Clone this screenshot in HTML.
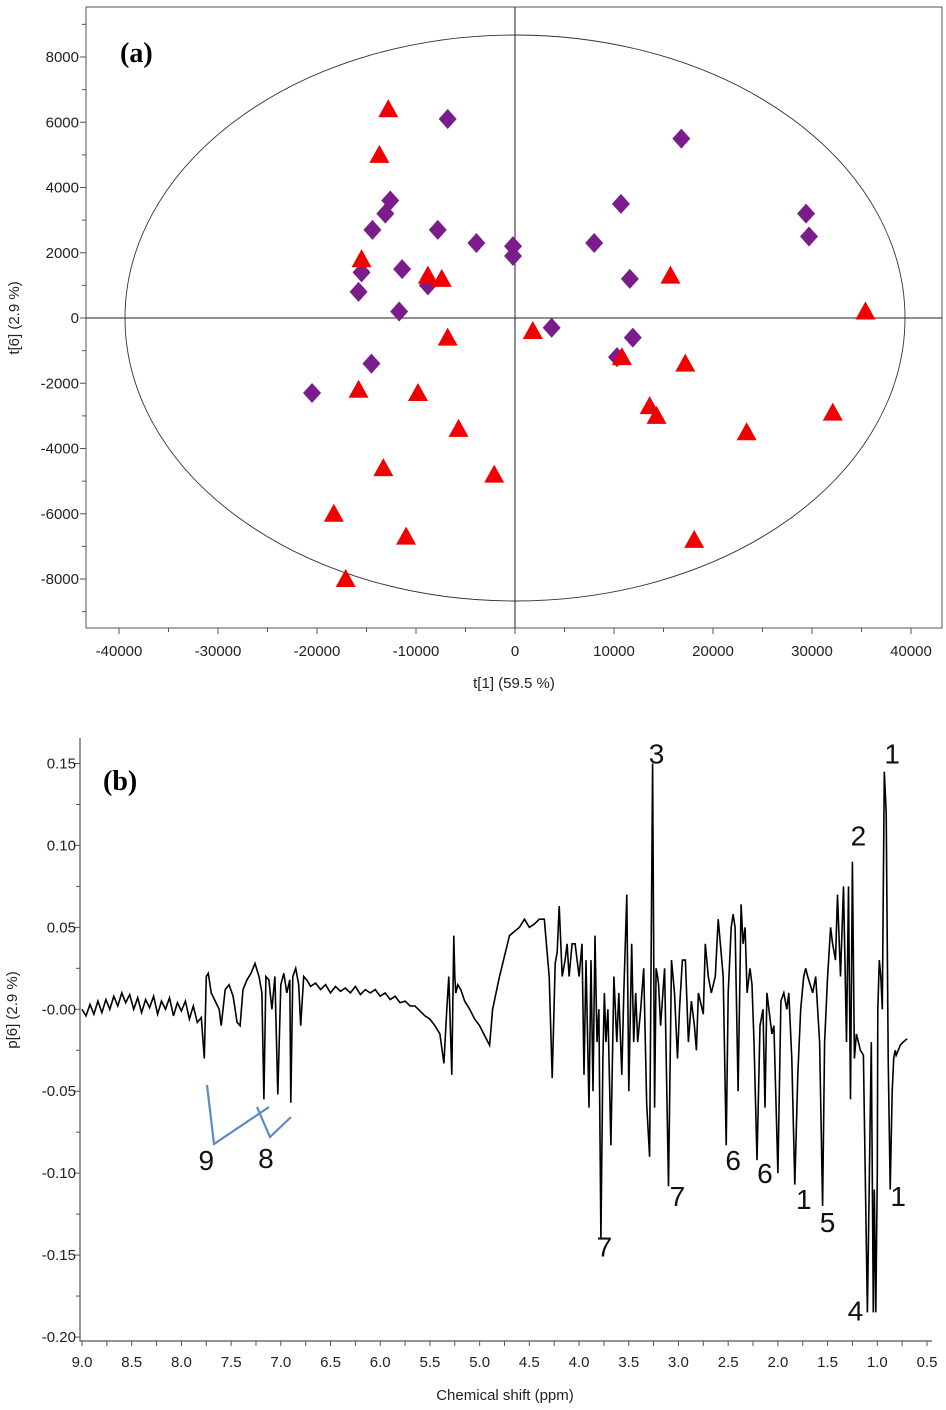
<!DOCTYPE html>
<html><head><meta charset="utf-8">
<style>
html,body{margin:0;padding:0;background:#fff;}
svg{display:block;}
text{font-family:"Liberation Sans",sans-serif;}
text.serif{font-family:"Liberation Serif",serif;}
</style></head>
<body>
<svg id="fig" width="946" height="1410" viewBox="0 0 946 1410" xmlns="http://www.w3.org/2000/svg">
<g id="chartA"></g>
<g id="chartB"></g>
</svg>
<script>
// ---- Chart (a) data ----
const triX = [-12800,-13700,-15500,-8800,-7400,-6800,1800,15700,35400,10800,17200,13600,14300,32100,23400,-15800,-9800,-5700,-13300,-2100,-18300,-11000,18100,-17100];
const triY = [6400,5000,1800,1300,1200,-600,-400,1300,200,-1200,-1400,-2700,-3000,-2900,-3500,-2200,-2300,-3400,-4600,-4800,-6000,-6700,-6800,-8000];
const diaX = [-6800,16800,-12600,-13100,-14400,-7800,-3900,-200,-200,8000,10700,29400,29700,11600,-11400,-15500,-15800,-8800,-11700,3700,11900,10300,-14500,-20500];
const diaY = [6100,5500,3600,3200,2700,2700,2300,2200,1900,2300,3500,3200,2500,1200,1500,1400,800,1000,200,-300,-600,-1200,-1400,-2300];
const aXTicks = [-40000,-30000,-20000,-10000,0,10000,20000,30000,40000];
const aYTicks = [8000,6000,4000,2000,0,-2000,-4000,-6000,-8000];

// ---- Chart (b) data ----
const ppm = [9.0,8.96,8.92,8.88,8.84,8.8,8.76,8.72,8.68,8.64,8.6,8.56,8.52,8.48,8.44,8.4,8.36,8.32,8.28,8.24,8.2,8.16,8.12,8.08,8.04,8.0,7.96,7.92,7.88,7.84,7.8,7.77,7.75,7.73,7.7,7.66,7.62,7.6,7.56,7.52,7.48,7.44,7.41,7.38,7.34,7.3,7.26,7.22,7.19,7.17,7.15,7.12,7.09,7.06,7.03,7.0,6.97,6.94,6.91,6.9,6.88,6.85,6.82,6.8,6.77,6.74,6.7,6.65,6.6,6.55,6.5,6.45,6.4,6.35,6.3,6.25,6.2,6.15,6.1,6.05,6.0,5.95,5.9,5.85,5.8,5.75,5.7,5.65,5.6,5.55,5.5,5.45,5.4,5.36,5.33,5.31,5.28,5.26,5.25,5.24,5.22,5.19,5.15,5.1,5.05,5.0,4.95,4.9,4.87,4.8,4.7,4.6,4.55,4.5,4.45,4.4,4.35,4.3,4.27,4.24,4.22,4.2,4.17,4.14,4.12,4.1,4.07,4.04,4.0,3.97,3.95,3.93,3.9,3.88,3.86,3.84,3.82,3.8,3.78,3.76,3.745,3.73,3.71,3.68,3.65,3.62,3.6,3.57,3.55,3.52,3.5,3.47,3.45,3.43,3.41,3.38,3.35,3.32,3.29,3.26,3.24,3.225,3.21,3.2,3.18,3.14,3.1,3.07,3.04,3.01,2.99,2.96,2.93,2.9,2.87,2.84,2.82,2.8,2.75,2.73,2.7,2.67,2.63,2.6,2.55,2.52,2.5,2.47,2.45,2.43,2.4,2.37,2.35,2.33,2.31,2.28,2.26,2.24,2.21,2.18,2.15,2.13,2.11,2.08,2.06,2.04,2.0,1.97,1.94,1.91,1.89,1.86,1.83,1.8,1.77,1.74,1.72,1.7,1.65,1.62,1.58,1.55,1.53,1.5,1.47,1.45,1.42,1.4,1.37,1.34,1.31,1.29,1.27,1.25,1.23,1.21,1.19,1.17,1.14,1.1,1.06,1.04,1.03,1.015,1.0,0.995,0.98,0.965,0.95,0.93,0.91,0.89,0.87,0.85,0.835,0.82,0.81,0.79,0.77,0.74,0.7,0.65,0.6,0.55,0.52];
const pval = [0.0,-0.004,0.003,-0.003,0.005,-0.002,0.006,0.0,0.008,0.002,0.01,0.004,0.009,0.0,0.007,-0.002,0.006,0.001,0.008,-0.003,0.005,0.0,0.007,-0.004,0.004,-0.001,0.005,-0.006,0.002,-0.008,-0.005,-0.03,0.02,0.022,0.01,0.005,0.0,-0.01,0.012,0.015,0.008,-0.008,-0.01,0.012,0.018,0.022,0.028,0.02,0.01,-0.055,0.02,0.018,0.0,0.02,-0.052,0.015,0.022,0.01,0.018,-0.057,0.02,0.025,0.015,-0.01,0.02,0.018,0.014,0.016,0.012,0.015,0.01,0.014,0.011,0.013,0.01,0.014,0.009,0.012,0.01,0.012,0.008,0.01,0.006,0.008,0.004,0.005,0.002,0.002,-0.001,-0.004,-0.006,-0.01,-0.015,-0.033,0.0,0.02,-0.04,0.045,0.02,0.01,0.015,0.012,0.005,0.0,-0.006,-0.01,-0.016,-0.022,0.0,0.02,0.045,0.05,0.055,0.05,0.052,0.055,0.055,0.02,-0.042,0.028,0.035,0.063,0.02,0.03,0.04,0.02,0.04,0.04,0.02,0.04,-0.04,0.03,-0.06,0.03,-0.05,0.045,-0.02,0.0,-0.14,-0.03,0.01,-0.02,0.0,-0.083,0.02,-0.02,0.01,-0.04,0.01,0.07,-0.05,0.04,-0.02,0.01,-0.02,0.0,0.025,-0.058,-0.09,0.15,-0.06,0.025,0.02,0.015,-0.01,0.025,-0.108,0.03,0.01,-0.03,0.0,0.03,0.03,-0.02,0.005,-0.01,-0.025,0.01,-0.003,0.04,0.02,0.01,0.02,0.055,0.02,-0.083,0.01,0.05,0.058,0.05,-0.05,0.064,0.04,0.05,0.01,0.025,0.015,-0.02,-0.092,-0.01,0.0,-0.06,0.01,-0.005,-0.015,-0.01,-0.1,0.005,0.01,0.0,0.01,-0.03,-0.107,-0.04,0.0,0.02,0.025,0.02,0.01,0.02,-0.02,-0.12,-0.02,0.02,0.05,0.04,0.03,0.07,0.02,0.075,-0.02,0.075,-0.055,0.09,-0.03,-0.015,-0.02,-0.025,-0.028,-0.185,-0.02,-0.185,-0.11,-0.185,-0.1,0.0,0.03,0.02,0.0,0.145,0.12,-0.03,-0.11,-0.05,-0.03,-0.025,-0.028,-0.025,-0.022,-0.02,-0.018];
const bXTicks = [9.0,8.5,8.0,7.5,7.0,6.5,6.0,5.5,5.0,4.5,4.0,3.5,3.0,2.5,2.0,1.5,1.0,0.5];
const bYTicks = [0.15,0.10,0.05,0.00,-0.05,-0.10,-0.15,-0.20];
const bYLabels = ["0.15","0.10","0.05","-0.00","-0.05","-0.10","-0.15","-0.20"];
const peakLabels = ["3","1","2","9","8","6","6","7","7","1","5","1","4"];
const peakPpm = [3.22,0.85,1.19,7.75,7.15,2.45,2.13,3.01,3.745,1.74,1.5,0.79,1.22];
const peakVal = [0.15,0.15,0.10,-0.098,-0.097,-0.098,-0.106,-0.12,-0.151,-0.122,-0.136,-0.12,-0.19];

const NS = "http://www.w3.org/2000/svg";
function mk(parent, tag, attrs){
  const e = document.createElementNS(NS, tag);
  for (const k in attrs) e.setAttribute(k, attrs[k]);
  parent.appendChild(e);
  return e;
}

// ---- Chart (a) ----
(function(){
  const g = document.getElementById('chartA');
  const L=86,R=942,T=7,B=628;
  const sx = v => 515 + v*(396/40000);
  const sy = v => 318 - v*(261/8000);
  const frame = mk(g,'rect',{x:L,y:T,width:R-L,height:B-T,fill:'none',stroke:'#555','stroke-width':1});
  
  
  const ell = mk(g,'ellipse',{cx:sx(0),cy:sy(0),rx:390,ry:283,fill:'none',stroke:'#333','stroke-width':0.9});
  
  
  const vx = mk(g,'line',{x1:sx(0),y1:T,x2:sx(0),y2:B,stroke:'#222','stroke-width':1});
  
  
  const hx = mk(g,'line',{x1:L,y1:sy(0),x2:R,y2:sy(0),stroke:'#222','stroke-width':1});
  
  
  for (let v=-45000; v<=45000; v+=5000){
    const x=sx(v); if (x<L||x>R) continue;
    const t = mk(g,'line',{x1:x,y1:B,x2:x,y2:B+(v%10000===0?6:4),stroke:'#555'});
    
    
  }
  aXTicks.forEach(v=>{
    const t = mk(g,'text',{x:sx(v),y:656,'text-anchor':'middle','font-size':15,fill:'#222'});
    t.textContent = String(v);
    
    
  });
  for (let v=-9000; v<=9000; v+=1000){
    const y=sy(v); if (y<T||y>B) continue;
    const t = mk(g,'line',{x1:L-(v%2000===0?6:4),y1:y,x2:L,y2:y,stroke:'#555'});
    
    
  }
  aYTicks.forEach(v=>{
    const t = mk(g,'text',{x:79,y:sy(v)+5,'text-anchor':'end','font-size':15,fill:'#222'});
    t.textContent = String(v);
    
    
  });
  const xt = mk(g,'text',{x:514,y:688,'text-anchor':'middle','font-size':15,fill:'#222'});
  xt.textContent='t[1] (59.5 %)';
  
  
  const yt = mk(g,'text',{x:0,y:0,'text-anchor':'middle','font-size':15,fill:'#222',transform:'translate(19,318) rotate(-90)'});
  yt.textContent='t[6] (2.9 %)';
  
  
  const pa = mk(g,'text',{x:120,y:62,'font-size':28,'font-weight':'bold',fill:'#000','class':'serif'});
  pa.textContent='(a)';
  
  
  diaX.forEach((v,i)=>{
    const x=sx(v), y=sy(diaY[i]);
    const d = mk(g,'polygon',{points:`${x},${y-10} ${x+9},${y} ${x},${y+10} ${x-9},${y}`,fill:'#7a1c8c'});
    
    
  });
  triX.forEach((v,i)=>{
    const x=sx(v), y=sy(triY[i]);
    const t = mk(g,'polygon',{points:`${x},${y-10} ${x+10},${y+8} ${x-10},${y+8}`,fill:'#f00000'});
    
    
  });
})();

// ---- Chart (b) ----
(function(){
  const g = document.getElementById('chartB');
  const L=80,B=1341,T=738,R=932;
  const sx = v => 82 + (9.0-v)*(845/8.5);
  const sy = v => 1009.3 - v*1638.6;
  const ax = mk(g,'path',{d:`M${L},${T} L${L},${B} L${R},${B}`,fill:'none',stroke:'#555','stroke-width':1.2});
  
  
  for (let v=9.0; v>=0.49; v-=0.25){
    const x=sx(v);
    const t = mk(g,'line',{x1:x,y1:B,x2:x,y2:B+5,stroke:'#555'});
    
    
  }
  bXTicks.forEach(v=>{
    const t = mk(g,'text',{x:sx(v),y:1367,'text-anchor':'middle','font-size':15,fill:'#222'});
    t.textContent = v.toFixed(1);
    
    
  });
  for (let k=-8; k<=6; k++){
    const v=k*0.025, y=sy(v); if (y<T) continue;
    const t = mk(g,'line',{x1:L-(k%2===0?6:4),y1:y,x2:L,y2:y,stroke:'#555'});
    
    
  }
  bYTicks.forEach((v,i)=>{
    const t = mk(g,'text',{x:76,y:sy(v)+5,'text-anchor':'end','font-size':15,fill:'#222'});
    t.textContent = bYLabels[i];
    
    
  });
  const xt = mk(g,'text',{x:505,y:1400,'text-anchor':'middle','font-size':15,fill:'#222'});
  xt.textContent='Chemical shift (ppm)';
  
  
  const yt = mk(g,'text',{x:0,y:0,'text-anchor':'middle','font-size':15,fill:'#222',transform:'translate(17,1010) rotate(-90)'});
  yt.textContent='p[6] (2.9 %)';
  
  
  const pb = mk(g,'text',{x:103,y:790,'font-size':28,'font-weight':'bold',fill:'#000','class':'serif'});
  pb.textContent='(b)';
  
  
  let d='';
  ppm.forEach((v,i)=>{ d += (i?'L':'M') + sx(v).toFixed(1) + ',' + sy(pval[i]).toFixed(1) + ' '; });
  const line = mk(g,'path',{d:d,fill:'none',stroke:'#000','stroke-width':1.6,'stroke-linejoin':'miter'});
  
  
  const br = mk(g,'path',{d:'M207,1085 L214,1144 L269,1107 M257,1107 L270,1137 L291,1117',fill:'none',stroke:'#5b8ac4','stroke-width':2.2});
  
  
  peakLabels.forEach((s,i)=>{
    const t = mk(g,'text',{x:sx(peakPpm[i]),y:sy(peakVal[i]),'text-anchor':'middle','font-size':28,fill:'#111'});
    t.textContent = s;
    
    
  });
})();
</script>
</body></html>
